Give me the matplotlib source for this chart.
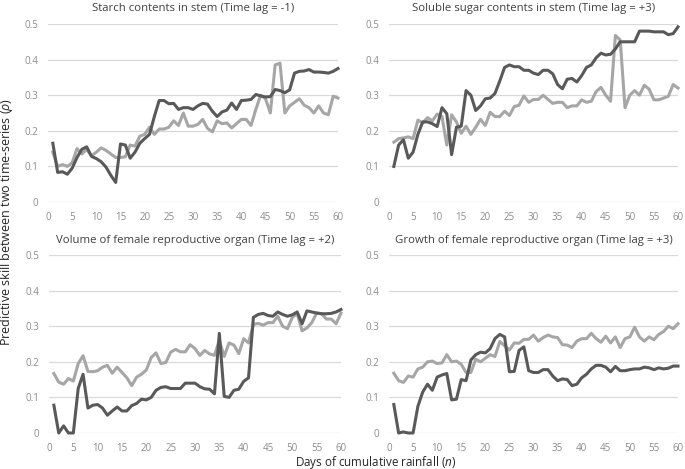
import matplotlib
matplotlib.use("Agg")
import matplotlib.pyplot as plt
import numpy as np

plt.rcParams['font.family'] = ['Open Sans', 'DejaVu Sans']
plt.rcParams['mathtext.fontset'] = 'custom'
plt.rcParams['mathtext.it'] = 'Open Sans:italic'
plt.rcParams['mathtext.rm'] = 'Open Sans'

days = list(range(1, 61))

titles = [
    "Starch contents in stem (Time lag = -1)",
    "Soluble sugar contents in stem (Time lag = +3)",
    "Volume of female reproductive organ (Time lag = +2)",
    "Growth of female reproductive organ (Time lag = +3)",
]

starch_dark = [0.165, 0.083, 0.085, 0.078, 0.095, 0.125, 0.148, 0.155, 0.128, 0.122,
               0.113, 0.098, 0.075, 0.055, 0.163, 0.160, 0.123, 0.140, 0.165, 0.178,
               0.190, 0.240, 0.285, 0.285, 0.276, 0.277, 0.260, 0.265, 0.265, 0.260,
               0.270, 0.277, 0.275, 0.255, 0.240, 0.253, 0.258, 0.278, 0.260, 0.285,
               0.286, 0.288, 0.302, 0.298, 0.295, 0.296, 0.316, 0.313, 0.307, 0.315,
               0.362, 0.367, 0.368, 0.372, 0.365, 0.365, 0.364, 0.362, 0.367, 0.375]
starch_light = [0.140, 0.100, 0.105, 0.100, 0.110, 0.150, 0.135, 0.148, 0.130, 0.140,
                0.152, 0.145, 0.135, 0.125, 0.125, 0.127, 0.160, 0.157, 0.185, 0.190,
                0.210, 0.190, 0.205, 0.205, 0.210, 0.228, 0.215, 0.250, 0.213, 0.213,
                0.218, 0.232, 0.207, 0.197, 0.228, 0.220, 0.222, 0.208, 0.220, 0.232,
                0.232, 0.215, 0.260, 0.300, 0.290, 0.250, 0.385, 0.390, 0.250, 0.270,
                0.280, 0.290, 0.272, 0.265, 0.250, 0.270, 0.250, 0.245, 0.297, 0.292]

sugar_dark = [0.100, 0.160, 0.175, 0.123, 0.140, 0.190, 0.225, 0.225, 0.220, 0.212,
              0.265, 0.248, 0.133, 0.210, 0.213, 0.313, 0.300, 0.257, 0.270, 0.290,
              0.292, 0.305, 0.340, 0.378, 0.385, 0.380, 0.380, 0.370, 0.370, 0.362,
              0.358, 0.370, 0.370, 0.360, 0.330, 0.318, 0.345, 0.347, 0.337, 0.355,
              0.378, 0.385, 0.405, 0.418, 0.413, 0.415, 0.430, 0.450, 0.450, 0.450,
              0.450, 0.480, 0.480, 0.480, 0.478, 0.478, 0.478, 0.470, 0.473, 0.492]
sugar_light = [0.168, 0.178, 0.180, 0.183, 0.178, 0.230, 0.222, 0.237, 0.228, 0.247,
               0.240, 0.160, 0.245, 0.225, 0.193, 0.213, 0.190, 0.210, 0.232, 0.215,
               0.252, 0.240, 0.240, 0.255, 0.243, 0.268, 0.272, 0.298, 0.280, 0.288,
               0.288, 0.300, 0.288, 0.277, 0.280, 0.280, 0.265, 0.270, 0.270, 0.287,
               0.280, 0.283, 0.310, 0.322, 0.300, 0.283, 0.468, 0.455, 0.265, 0.300,
               0.313, 0.300, 0.328, 0.317, 0.287, 0.287, 0.292, 0.297, 0.330, 0.320]

volume_dark = [0.078, 0.000, 0.020, 0.000, 0.000, 0.125, 0.165, 0.070, 0.078, 0.080,
               0.070, 0.050, 0.062, 0.073, 0.062, 0.062, 0.077, 0.083, 0.095, 0.093,
               0.100, 0.120, 0.128, 0.130, 0.125, 0.125, 0.125, 0.140, 0.140, 0.140,
               0.130, 0.124, 0.123, 0.110, 0.280, 0.103, 0.100, 0.120, 0.123, 0.145,
               0.155, 0.325, 0.333, 0.336, 0.330, 0.328, 0.340, 0.333, 0.328, 0.332,
               0.340, 0.307, 0.343, 0.340, 0.337, 0.335, 0.335, 0.336, 0.340, 0.347]
volume_light = [0.167, 0.143, 0.137, 0.153, 0.146, 0.195, 0.217, 0.173, 0.172, 0.175,
                0.185, 0.190, 0.168, 0.185, 0.170, 0.155, 0.133, 0.157, 0.165, 0.177,
                0.212, 0.225, 0.195, 0.198, 0.227, 0.235, 0.228, 0.228, 0.248, 0.237,
                0.218, 0.232, 0.222, 0.218, 0.260, 0.215, 0.253, 0.247, 0.223, 0.265,
                0.253, 0.305, 0.308, 0.303, 0.310, 0.310, 0.328, 0.300, 0.293, 0.325,
                0.335, 0.287, 0.295, 0.310, 0.337, 0.335, 0.320, 0.320, 0.307, 0.337]

growth_dark = [0.080, 0.000, 0.003, 0.000, 0.000, 0.075, 0.115, 0.137, 0.120, 0.157,
               0.163, 0.167, 0.093, 0.095, 0.150, 0.147, 0.205, 0.220, 0.227, 0.225,
               0.237, 0.265, 0.277, 0.270, 0.172, 0.173, 0.232, 0.242, 0.175, 0.170,
               0.170, 0.178, 0.178, 0.160, 0.147, 0.152, 0.150, 0.133, 0.137, 0.155,
               0.165, 0.180, 0.190, 0.190, 0.185, 0.172, 0.187, 0.175, 0.175, 0.178,
               0.180, 0.180, 0.185, 0.183, 0.178, 0.183, 0.180, 0.182, 0.188, 0.188]
growth_light = [0.168, 0.147, 0.142, 0.160, 0.157, 0.180, 0.185, 0.200, 0.202, 0.195,
                0.197, 0.220, 0.200, 0.202, 0.193, 0.170, 0.170, 0.207, 0.200, 0.210,
                0.220, 0.215, 0.257, 0.245, 0.233, 0.253, 0.252, 0.263, 0.263, 0.275,
                0.258, 0.268, 0.275, 0.270, 0.268, 0.248, 0.247, 0.240, 0.258, 0.265,
                0.265, 0.280, 0.265, 0.255, 0.272, 0.253, 0.270, 0.240, 0.265, 0.270,
                0.297, 0.270, 0.258, 0.270, 0.262, 0.277, 0.285, 0.300, 0.293, 0.307]

dark_series = [starch_dark, sugar_dark, volume_dark, growth_dark]
light_series = [starch_light, sugar_light, volume_light, growth_light]

xticks = list(range(0, 61, 5))
yticks = [0, 0.1, 0.2, 0.3, 0.4, 0.5]

W, H = 685, 469
fig = plt.figure(figsize=(W / 100, H / 100), dpi=100)

# panel boxes in pixel coords: left, right, top(y=0.5), bottom(y=0)
boxes = [
    (48, 338, 24, 202),
    (389, 678, 24, 202),
    (49, 341, 255, 433),
    (389, 678, 255, 433),
]

dark_c = "#595959"
light_c = "#a6a6a6"
grid_c = "#d9d9d9"
tick_c = "#8c8c8c"

for i, (l, r, t, b) in enumerate(boxes):
    ax = fig.add_axes([l / W, (H - b) / H, (r - l) / W, (b - t) / H])
    ax.plot(days, light_series[i], color=light_c, lw=2.2, solid_joinstyle='round', zorder=3)
    ax.plot(days, dark_series[i], color=dark_c, lw=2.2, solid_joinstyle='round', zorder=4)
    ax.set_xlim(0, 60)
    ax.set_ylim(0, 0.5)
    ax.set_xticks(xticks)
    ax.set_yticks(yticks)
    ax.set_yticklabels(["0", "0.1", "0.2", "0.3", "0.4", "0.5"])
    for s in ax.spines.values():
        s.set_visible(False)
    ax.grid(axis='y', color=grid_c, lw=0.9, zorder=0)
    ax.tick_params(length=0, labelsize=7, labelcolor=tick_c, pad=7)
    ax.set_title(titles[i], fontsize=8.2, color="#404040", pad=9)
    for ln in ax.lines:
        ln.set_clip_on(False)

fig.text(7 / W, 1 - 222 / H, r"Predictive skill between two time-series ($\rho$)",
         rotation=90, ha='center', va='center', fontsize=9.0, color="#262626")
fig.text(376 / W, 1 - 462 / H, r"Days of cumulative rainfall ($n$)",
         ha='center', va='center', fontsize=8.4, color="#262626")

fig.savefig("out.png", dpi=100)
